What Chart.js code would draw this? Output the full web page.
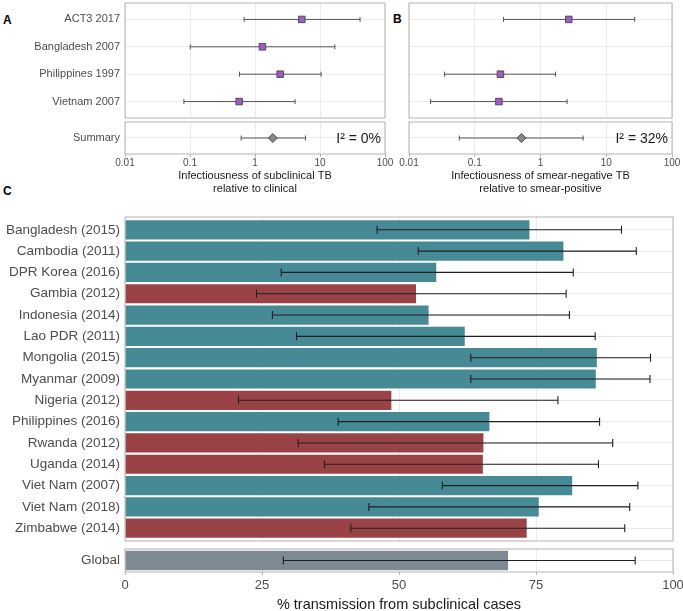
<!DOCTYPE html>
<html>
<head>
<meta charset="utf-8">
<script src="https://cdn.jsdelivr.net/npm/chart.js@4.4.1/dist/chart.umd.min.js"></script>
<style>
  body { margin: 0; background: #fff; }
  #figure { position: relative; width: 683px; height: 611px; overflow: hidden; background: #fff; }
  .tag { position: absolute; font: bold 12px "Liberation Sans", Arial, sans-serif; color: #000; }
</style>
</head>
<body>
<div id="figure">
  <div class="tag" style="left:3px;top:13px">A</div>
  <div class="tag" style="left:393px;top:12px">B</div>
  <div class="tag" style="left:3px;top:184px">C</div>
</div>
<script>
// Panel A / B: relative infectiousness, log scale
const studies = ["ACT3 2017", "Bangladesh 2007", "Philippines 1997", "Vietnam 2007"];
const subclinEst = [5.25, 1.3, 2.44, 0.571];
const subclinLo = [0.68, 0.101, 0.578, 0.0806];
const subclinHi = [41.3, 16.9, 10.4, 4.14];
const subclinSummary = [1.88, 0.612, 5.97]; // estimate, lower, upper
const smearEst = [2.69, null, 0.246, 0.233];
const smearLo = [0.274, null, 0.0348, 0.0213];
const smearHi = [27.1, null, 1.69, 2.54];
const smearSummary = [0.514, 0.0582, 4.45];
const heterogeneity = ["I\u00b2 = 0%", "I\u00b2 = 32%"];
const logTicks = [0.01, 0.1, 1, 10, 100];

// Panel C: % transmission from subclinical cases
const surveys = [
  "Bangladesh (2015)", "Cambodia (2011)", "DPR Korea (2016)", "Gambia (2012)",
  "Indonesia (2014)", "Lao PDR (2011)", "Mongolia (2015)", "Myanmar (2009)",
  "Nigeria (2012)", "Philippines (2016)", "Rwanda (2012)", "Uganda (2014)",
  "Viet Nam (2007)", "Viet Nam (2018)", "Zimbabwe (2014)",
];
const surveyRegion = [
  "asia", "asia", "asia", "africa", "asia", "asia", "asia", "asia",
  "africa", "asia", "africa", "africa", "asia", "asia", "africa",
];
const transPct = [73.8, 80.0, 56.8, 53.1, 55.4, 62.0, 86.1, 85.9, 48.6, 66.5, 65.4, 65.3, 81.6, 75.5, 73.3];
const transLo = [46.0, 53.5, 28.5, 24.0, 26.9, 31.3, 63.1, 63.1, 20.7, 38.9, 31.6, 36.4, 57.9, 44.5, 41.2];
const transHi = [90.6, 93.3, 81.8, 80.5, 81.1, 85.8, 95.9, 95.8, 79.0, 86.6, 89.0, 86.4, 93.6, 92.1, 91.2];
const globalPct = [69.9, 28.9, 93.1]; // estimate, lower, upper
const pctTicks = [0, 25, 50, 75, 100];

const regionColors = { asia: "#468a95", africa: "#9a4347" };
const FONT = '"Liberation Sans", Arial, sans-serif';
const GRID = "#ebebeb";
const FRAME = "#b3b3b3";

Chart.defaults.font.family = FONT;
Chart.defaults.animation = false;

const panelFrame = {
  id: "panelFrame",
  afterDraw(chart) {
    const { ctx, chartArea: a } = chart;
    ctx.save();
    ctx.strokeStyle = FRAME;
    ctx.lineWidth = 1;
    ctx.strokeRect(a.left, a.top, a.right - a.left, a.bottom - a.top);
    ctx.restore();
  },
};

function drawErrors(chart, opts) {
  const { ctx } = chart;
  const xs = chart.scales.x;
  ctx.save();
  ctx.strokeStyle = opts.color;
  ctx.lineWidth = opts.width || 1;
  chart.data.datasets.forEach((ds, di) => {
    if (!ds.lo) return;
    chart.getDatasetMeta(di).data.forEach((el, i) => {
      const x1 = xs.getPixelForValue(ds.lo[i]);
      const x2 = xs.getPixelForValue(ds.hi[i]);
      const y = el.y;
      ctx.beginPath();
      ctx.moveTo(x1, y);
      ctx.lineTo(x2, y);
      ctx.moveTo(x1, y - opts.cap);
      ctx.lineTo(x1, y + opts.cap);
      ctx.moveTo(x2, y - opts.cap);
      ctx.lineTo(x2, y + opts.cap);
      ctx.stroke();
    });
  });
  ctx.restore();
}

const errorBars = {
  id: "errorBars",
  beforeDatasetsDraw(chart, args, opts) {
    if (opts.under) drawErrors(chart, opts);
  },
  afterDatasetsDraw(chart, args, opts) {
    if (!opts.under) drawErrors(chart, opts);
  },
};

const note = {
  id: "note",
  afterDraw(chart, args, opts) {
    if (!opts.text) return;
    const { ctx, chartArea: a } = chart;
    ctx.save();
    ctx.font = `14px ${FONT}`;
    ctx.fillStyle = "#1a1a1a";
    ctx.textAlign = "right";
    ctx.textBaseline = "middle";
    ctx.fillText(opts.text, a.right - 4, (a.top + a.bottom) / 2 + 1);
    ctx.restore();
  },
};

function makeCanvas(left, top, width, height) {
  const wrap = document.createElement("div");
  wrap.style.cssText = `position:absolute;left:${left}px;top:${top}px;width:${width}px;height:${height}px`;
  const cv = document.createElement("canvas");
  cv.width = width;
  cv.height = height;
  wrap.appendChild(cv);
  document.getElementById("figure").appendChild(wrap);
  return cv;
}

function logAxis(title) {
  return {
    type: "logarithmic",
    min: 0.01,
    max: 100,
    afterBuildTicks: (s) => { s.ticks = logTicks.map((v) => ({ value: v })); },
    grid: { color: GRID, drawTicks: !!title, tickLength: 3, tickColor: FRAME },
    border: { display: false },
    ticks: {
      display: !!title, autoSkip: false, maxRotation: 0, padding: 0,
      color: "#4d4d4d", font: { size: 10 },
      callback: (v) => String(v),
    },
    title: title
      ? { display: true, text: title, color: "#1a1a1a", font: { size: 11 }, padding: { top: 2, bottom: 0 } }
      : { display: false },
    afterFit: (s) => { s.height = title ? 42 : 0; },
  };
}

function rowAxis(labels, min, max, width, fontSize, show) {
  return {
    type: "linear",
    reverse: true,
    offset: false,
    min,
    max,
    afterBuildTicks: (s) => { s.ticks = labels.map((_, i) => ({ value: i + 1 })); },
    grid: { color: GRID, drawTicks: false, offset: false },
    border: { display: false },
    ticks: {
      display: show, autoSkip: false, padding: 5,
      color: "#4d4d4d", font: { size: fontSize },
      callback: (v) => labels[v - 1],
    },
    afterFit: (s) => {
      s.width = width;
      // rows sit inside the panel, so no room is needed for label overflow
      s.paddingTop = 0;
      s.paddingBottom = 0;
    },
  };
}

function forestChart(cv, labels, est, lo, hi, opts) {
  const idx = est.map((v, i) => i).filter((i) => est[i] !== null);
  return new Chart(cv, {
    type: "scatter",
    data: {
      datasets: [{
        data: idx.map((i) => ({ x: est[i], y: i + 1 })),
        lo: idx.map((i) => lo[i]),
        hi: idx.map((i) => hi[i]),
        pointStyle: opts.marker,
        pointRadius: opts.radius,
        backgroundColor: opts.fill,
        borderColor: "#4d4d4d",
        borderWidth: 1,
      }],
    },
    options: {
      responsive: false,
      layout: { padding: opts.padding, autoPadding: false },
      plugins: {
        legend: { display: false },
        tooltip: { enabled: false },
        errorBars: { under: true, color: "#555", cap: 2.5 },
        note: { text: opts.note },
      },
      scales: {
        x: logAxis(opts.title),
        y: rowAxis(labels, 0.4, labels.length + 0.6, opts.yWidth, 11, opts.showLabels),
      },
    },
    plugins: [panelFrame, errorBars, note],
  });
}

// Panel A
forestChart(makeCanvas(0, 0, 390, 119), studies, subclinEst, subclinLo, subclinHi, {
  marker: "rect", radius: 4.6, fill: "#a35ac6",
  padding: { top: 3, right: 5, bottom: 1 }, yWidth: 125, showLabels: true,
});
forestChart(makeCanvas(0, 119, 395, 77), ["Summary"], [subclinSummary[0]], [subclinSummary[1]], [subclinSummary[2]], {
  marker: "rectRot", radius: 4.5, fill: "#7f8994",
  padding: { top: 3, right: 10, bottom: 0 }, yWidth: 125, showLabels: true,
  title: ["Infectiousness of subclinical TB", "relative to clinical"],
  note: heterogeneity[0],
});

// Panel B
forestChart(makeCanvas(395, 0, 288, 119), studies, smearEst, smearLo, smearHi, {
  marker: "rect", radius: 4.6, fill: "#a35ac6",
  padding: { top: 3, right: 11, bottom: 1 }, yWidth: 14, showLabels: false,
});
forestChart(makeCanvas(395, 119, 288, 77), ["Summary"], [smearSummary[0]], [smearSummary[1]], [smearSummary[2]], {
  marker: "rectRot", radius: 4.5, fill: "#7f8994",
  padding: { top: 3, right: 11, bottom: 0 }, yWidth: 14, showLabels: false,
  title: ["Infectiousness of smear-negative TB", "relative to smear-positive"],
  note: heterogeneity[1],
});

// Panel C
function pctAxis(title) {
  return {
    type: "linear",
    min: 0,
    max: 100,
    afterBuildTicks: (s) => { s.ticks = pctTicks.map((v) => ({ value: v })); },
    grid: { color: GRID, drawTicks: !!title, tickLength: 3, tickColor: FRAME },
    border: { display: false },
    ticks: { display: !!title, autoSkip: false, maxRotation: 0, padding: 3, color: "#4d4d4d", font: { size: 13 } },
    title: title
      ? { display: true, text: title, color: "#1a1a1a", font: { size: 14.5 }, padding: { top: 2, bottom: -3 } }
      : { display: false },
    afterFit: (s) => {
      s.height = title ? 39 : 0;
      // let the "100" label run into the right margin, as in the original
      s.paddingLeft = 0;
      s.paddingRight = 0;
    },
  };
}

function barChart(cv, labels, values, lo, hi, colors, opts) {
  return new Chart(cv, {
    type: "bar",
    data: {
      datasets: [{
        data: values.map((v, i) => ({ x: v, y: i + 1 })),
        lo,
        hi,
        backgroundColor: colors,
        borderWidth: 0,
        barPercentage: opts.barPct,
        categoryPercentage: 1,
      }],
    },
    options: {
      responsive: false,
      indexAxis: "y",
      layout: { padding: opts.padding, autoPadding: false },
      plugins: {
        legend: { display: false },
        tooltip: { enabled: false },
        errorBars: { under: false, color: "#1f1f1f", cap: 4, width: 1.1 },
      },
      scales: {
        x: pctAxis(opts.title),
        y: rowAxis(labels, 0.4, labels.length + 0.6, 125, 13.5, true),
      },
    },
    plugins: [panelFrame, errorBars],
  });
}

barChart(makeCanvas(0, 214, 683, 328), surveys, transPct, transLo, transHi,
  surveyRegion.map((r) => regionColors[r]), {
    barPct: 0.9, padding: { top: 3, right: 10, bottom: 1 },
  });
barChart(makeCanvas(0, 546, 683, 65), ["Global"], [globalPct[0]], [globalPct[1]], [globalPct[2]],
  ["#7f8994"], {
    barPct: 0.84, padding: { top: 3, right: 10, bottom: 0 },
    title: "% transmission from subclinical cases",
  });
</script>
</body>
</html>
